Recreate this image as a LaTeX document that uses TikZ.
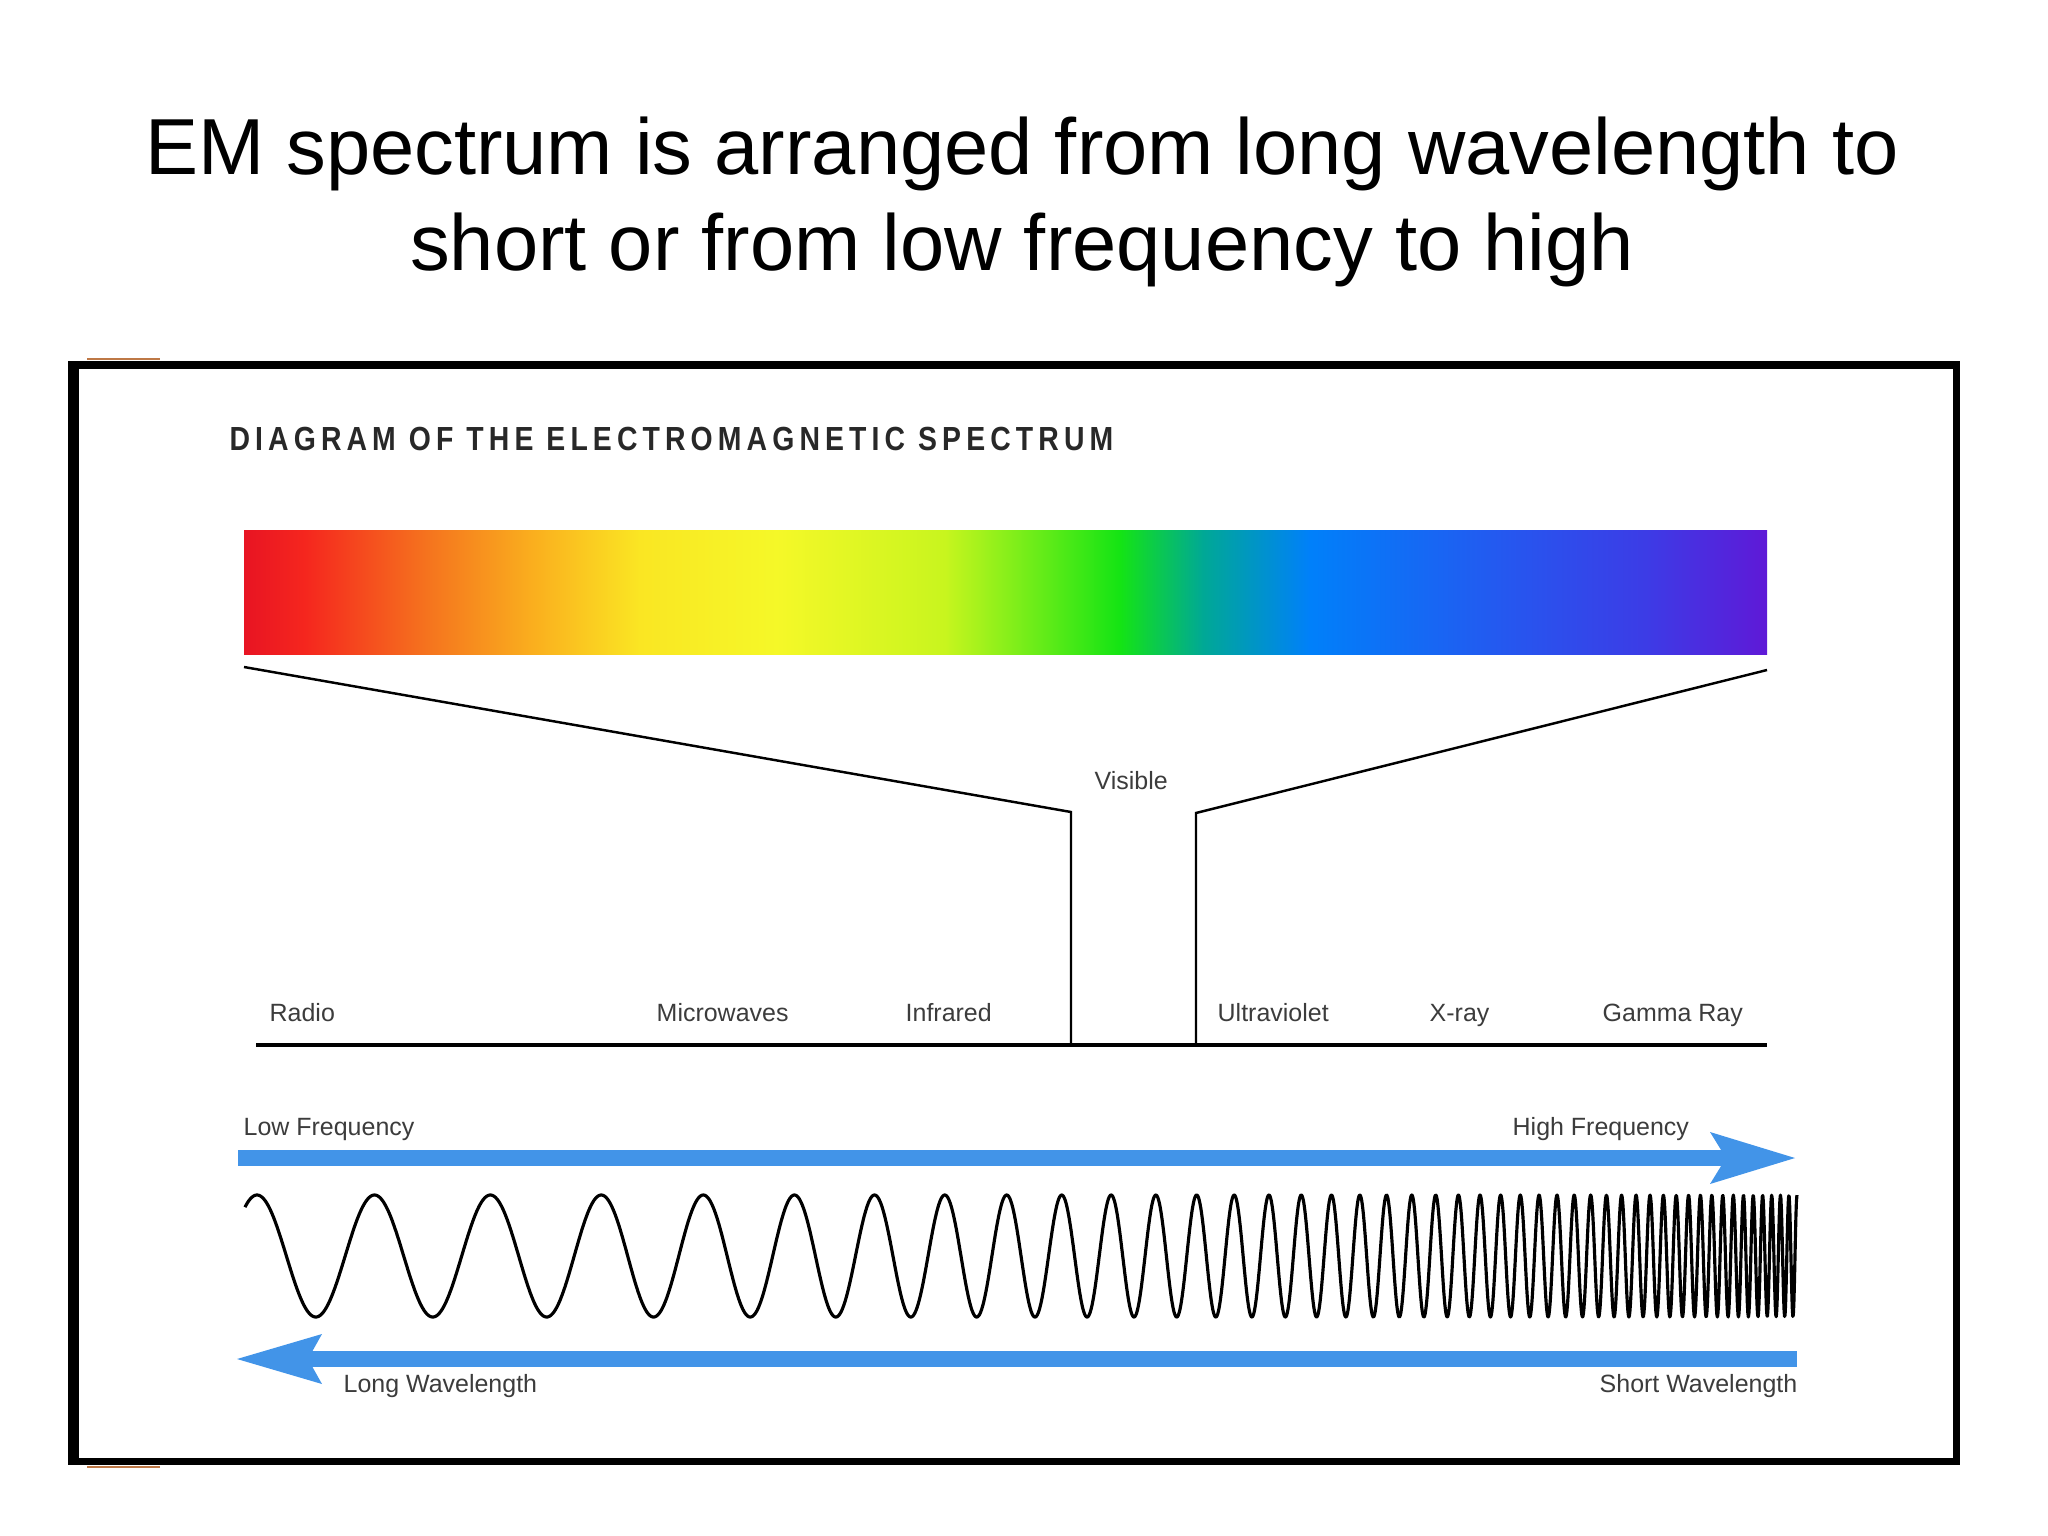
\documentclass[tikz,border=0pt]{standalone}
\usepackage{fontspec}
\setmainfont{Liberation Sans}
\newfontfamily\hdrfont[LetterSpace=18]{Liberation Sans}
\definecolor{sp0}{RGB}{232,20,35}
\definecolor{sp1}{RGB}{245,38,30}
\definecolor{sp2}{RGB}{245,115,30}
\definecolor{sp3}{RGB}{250,175,30}
\definecolor{sp4}{RGB}{250,230,35}
\definecolor{sp5}{RGB}{245,248,40}
\definecolor{sp6}{RGB}{200,245,30}
\definecolor{sp7}{RGB}{20,228,20}
\definecolor{sp8}{RGB}{0,168,150}
\definecolor{sp9}{RGB}{0,128,250}
\definecolor{sp10}{RGB}{35,90,240}
\definecolor{sp11}{RGB}{60,60,230}
\definecolor{sp12}{RGB}{95,25,215}
\definecolor{arrowblue}{RGB}{66,148,232}
\definecolor{labelgray}{RGB}{60,60,60}
\definecolor{hdrgray}{RGB}{40,40,40}
\definecolor{brownmark}{RGB}{190,120,70}
\pgfdeclarehorizontalshading{spectrum}{100bp}{color(0bp)=(sp0); color(25bp)=(sp0); color(27bp)=(sp1); color(31bp)=(sp2); color(34.5bp)=(sp3); color(38bp)=(sp4); color(42.5bp)=(sp5); color(48bp)=(sp6); color(53.75bp)=(sp7); color(56.5bp)=(sp8); color(60bp)=(sp9); color(66bp)=(sp10); color(71bp)=(sp11); color(75bp)=(sp12); color(100bp)=(sp12)}
\tikzset{
  titletext/.style={inner sep=0pt, anchor=base, font=\fontsize{22.6}{27}\selectfont},
  lbl/.style={inner sep=0pt, anchor=base west, text=labelgray, font=\fontsize{7.1}{8}\selectfont},
  hdr/.style={inner sep=0pt, anchor=base west, text=hdrgray, xscale=0.85, font=\hdrfont\bfseries\fontsize{9.5}{11}\selectfont},
  funnel/.style={line width=0.7pt, line join=miter},
  baseline/.style={line width=1.1pt},
  shaft/.style={arrowblue, line width=4.3pt},
  wave/.style={line width=0.9pt, line join=round},
  frame/.style={line width=2pt}
}
\begin{document}
\begin{tikzpicture}[x=0.01cm, y=-0.01cm]
\useasboundingbox (0,0) rectangle (2048,1536);
% title
\node[titletext] (title1) at (1022,174) {EM spectrum is arranged from long wavelength to};
\node[titletext] (title2) at (1022,270) {short or from low frequency to high};
% frame
\draw[frame] (72,365) rectangle (1956,1461);
\draw[line width=3.1pt] (73.5,362) -- (73.5,1464);
\draw[brownmark, line width=0.6pt] (87,359) -- (160,359);
\draw[brownmark, line width=0.6pt] (87,1467) -- (160,1467);
% header
\node[hdr] (header) at (229,450) {DIAGRAM OF THE ELECTROMAGNETIC SPECTRUM};
% spectrum bar
\shade[shading=spectrum] (244,530) rectangle (1767,654);
% funnel
\coordinate (fl0) at (244,667);
\coordinate (fl1) at (1071,812);
\coordinate (fl2) at (1071,1045);
\coordinate (fr0) at (1767,670);
\coordinate (fr1) at (1196,813);
\coordinate (fr2) at (1196,1045);
\draw[funnel] (fl0) -- (fl1) -- (fl2);
\draw[funnel] (fr0) -- (fr1) -- (fr2);
\coordinate (bl) at (256,1045);
\coordinate (br) at (1767,1045);
\draw[baseline] (bl) -- (br);
\node[lbl] (visible) at (1094,789) {Visible};
\node[lbl] (radio) at (269,1021) {Radio};
\node[lbl] (micro) at (656,1021) {Microwaves};
\node[lbl] (infra) at (905,1021) {Infrared};
\node[lbl] (ultra) at (1217,1021) {Ultraviolet};
\node[lbl] (xray) at (1429,1021) {X-ray};
\node[lbl] (gamma) at (1602,1021) {Gamma Ray};
% frequency arrow
\node[lbl] (lowf) at (243,1135) {Low Frequency};
\node[lbl] (highf) at (1512,1135) {High Frequency};
\coordinate (fa0) at (238,1158);
\coordinate (fa1) at (1740,1158);
\draw[shaft] (fa0) -- (fa1);
\fill[arrowblue] (1795,1158) -- (1710,1132) -- (1726,1158) -- (1710,1184) -- cycle;
% wave
\draw[wave] plot[domain=-0.0078:1, samples=3000] ({257+1540*\x}, {1256 - 61*cos(360*mod(13.1*\x + 28.9*(\x*\x)^2 + 4*(\x*\x)^8, 1))});
% wavelength arrow
\coordinate (wa0) at (300,1359);
\coordinate (wa1) at (1797,1359);
\draw[shaft] (wa0) -- (wa1);
\fill[arrowblue] (237,1359) -- (322,1334) -- (308,1359) -- (322,1384) -- cycle;
\node[lbl] (longw) at (343,1392) {Long Wavelength};
\node[lbl] (shortw) at (1599,1392) {Short Wavelength};
\end{tikzpicture}
\end{document}
